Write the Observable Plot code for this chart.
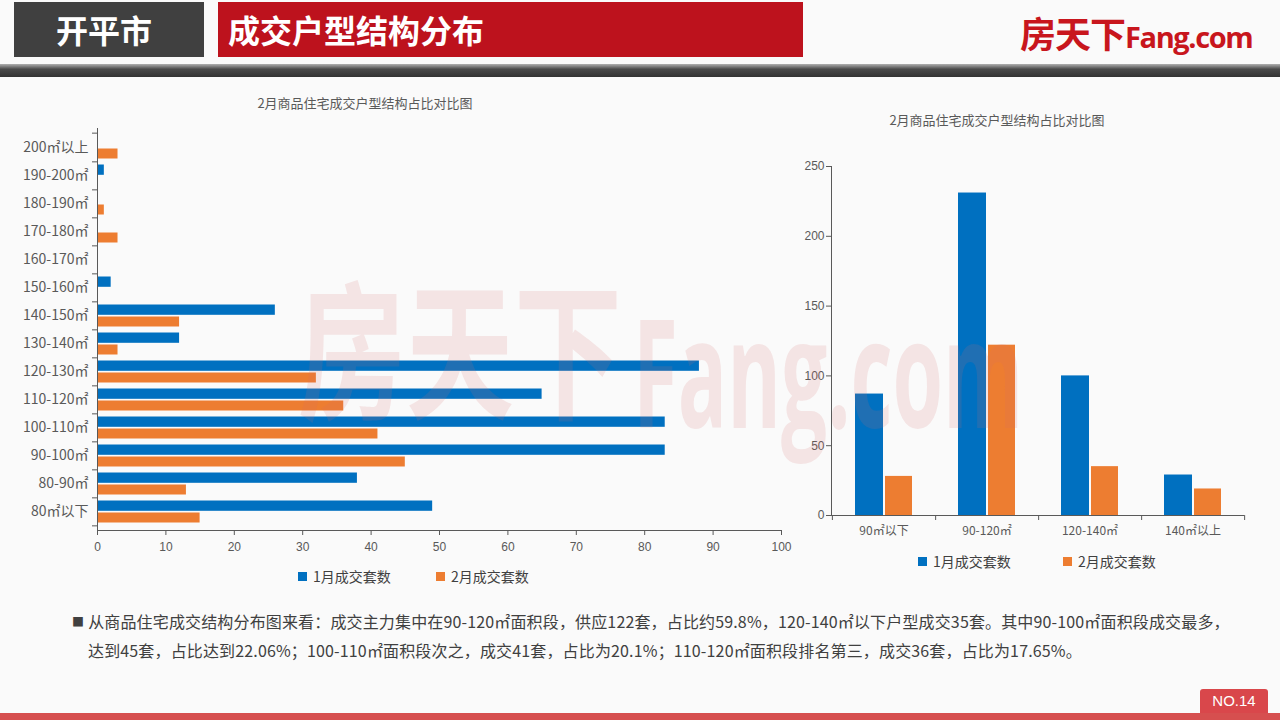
<!DOCTYPE html>
<html><head><meta charset="utf-8">
<script src="https://cdn.jsdelivr.net/npm/d3@7"></script>
<script src="https://cdn.jsdelivr.net/npm/@observablehq/plot@0.6"></script>
<style>
html,body{margin:0;padding:0;}
body{width:1280px;height:720px;position:relative;overflow:hidden;background:#fafafa;font-family:"Microsoft YaHei","Noto Sans CJK SC",sans-serif;color:#404040;}
.abs{position:absolute;}
.hbox{position:absolute;top:2px;height:55px;color:#fff;font-weight:bold;font-size:32px;line-height:55px;}
.title{position:absolute;font-size:13px;color:#595959;white-space:nowrap;transform:translateX(-50%);}
.leg{position:absolute;font-size:14px;color:#404040;white-space:nowrap;line-height:16px;}
.sw{display:inline-block;width:9px;height:9px;margin-right:6px;vertical-align:1px;}
.wm{position:absolute;white-space:nowrap;color:rgba(215,110,110,0.15);font-weight:bold;pointer-events:none;z-index:10;line-height:1;transform-origin:0 0;}
</style></head>
<body>
<div class="hbox" style="left:14px;width:190px;background:#404040;"><span style="position:absolute;left:42px;">开平市</span></div>
<div class="hbox" style="left:218px;width:585px;background:#bd121d;"><span style="position:absolute;left:10px;">成交户型结构分布</span></div>
<div class="abs" style="left:1020px;top:6px;color:#c8161d;white-space:nowrap;font-weight:bold;">
  <span style="font-size:36px;letter-spacing:-1px;">房天下</span><span style="font-family:'Open Sans';font-size:29px;letter-spacing:-1.4px;">Fang.com</span>
</div>
<div class="abs" style="left:0;top:64px;width:1280px;height:13px;background:linear-gradient(#b0b0b0,#4a4a4a 40%,#333);"></div>

<div class="title" style="left:365px;top:93px;">2月商品住宅成交户型结构占比对比图</div>
<div class="title" style="left:997px;top:110px;">2月商品住宅成交户型结构占比对比图</div>

<div id="left" class="abs" style="left:0;top:120px;"></div>
<div id="right" class="abs" style="left:800px;top:150px;"></div>

<div class="leg" style="left:298px;top:568px;"><span class="sw" style="background:#0070c0"></span>1月成交套数</div>
<div class="leg" style="left:436px;top:568px;"><span class="sw" style="background:#ed7d31"></span>2月成交套数</div>
<div class="leg" style="left:918px;top:553px;"><span class="sw" style="background:#0070c0"></span>1月成交套数</div>
<div class="leg" style="left:1063px;top:553px;"><span class="sw" style="background:#ed7d31"></span>2月成交套数</div>

<div class="wm" style="left:298px;top:268px;font-size:150px;font-family:'Noto Sans CJK SC';transform:scaleX(0.72);">房天下</div>
<div class="wm" style="left:633px;top:295px;font-size:150px;font-family:'Open Sans';transform:scaleX(0.545);">Fang.com</div>

<div class="abs" style="left:72px;top:607px;font-size:16px;letter-spacing:0.15px;line-height:28px;color:#404040;white-space:nowrap;">
<span style="font-size:12px;margin-right:4px;vertical-align:1px;">■</span>从商品住宅成交结构分布图来看：成交主力集中在90-120㎡面积段，供应122套，占比约59.8%，120-140㎡以下户型成交35套。其中90-100㎡面积段成交最多，<br>
<span style="margin-left:16px;">达到45套，占比达到22.06%；100-110㎡面积段次之，成交41套，占比为20.1%；110-120㎡面积段排名第三，成交36套，占比为17.65%。</span>
</div>

<div class="abs" style="left:1200px;top:689px;width:68px;height:24px;background:#d9474b;border-radius:3px 3px 0 0;color:#fff;font-size:15px;line-height:24px;text-align:center;font-family:'Liberation Sans',sans-serif;">NO.14</div>
<div class="abs" style="left:0;top:713px;width:1280px;height:7px;background:#d64f4f;"></div>

<script>
// ---- data ----
const areaBands = ["80㎡以下","80-90㎡","90-100㎡","100-110㎡","110-120㎡","120-130㎡","130-140㎡","140-150㎡","150-160㎡","160-170㎡","170-180㎡","180-190㎡","190-200㎡","200㎡以上"];
const janCounts = [49,38,83,83,65,88,12,26,2,0,0,0,1,0];
const febCounts = [15,13,45,41,36,32,3,12,0,0,3,1,0,3];
const xTicksLeft = [0,10,20,30,40,50,60,70,80,90,100];

const groupBands = ["90㎡以下","90-120㎡","120-140㎡","140㎡以上"];
const janGroup = [87,231,100,29];
const febGroup = [28,122,35,19];
const yTicksRight = [0,50,100,150,200,250];

const BLUE = "#0070c0", ORANGE = "#ed7d31", AXIS = "#595959";
const FONT = "'Liberation Sans','Noto Sans CJK SC',sans-serif";

// ---- left chart ----
const leftRows = areaBands.map((c,i)=>({c, jan: janCounts[i], feb: febCounts[i]}));
const LW = 800, LH = 440, lMT = 8, lMB = 30, lML = 97, lMR = 19;
const bwL = (LH - lMT - lMB) / areaBands.length;
const yDomain = areaBands.slice().reverse();
const left = Plot.plot({
  width: LW, height: LH, marginLeft: lML, marginRight: lMR, marginTop: lMT, marginBottom: lMB,
  style: {background: "transparent", fontFamily: FONT, fontSize: "12px", color: AXIS},
  x: {domain: [0,100]},
  y: {domain: yDomain, padding: 0},
  marks: [
    Plot.barX(leftRows, {y: "c", x: "jan", fill: BLUE, insetTop: 3.5, insetBottom: 14.2}),
    Plot.barX(leftRows, {y: "c", x: "feb", fill: ORANGE, insetTop: 15.5, insetBottom: 2.5}),
    Plot.ruleX([0], {stroke: AXIS}),
    Plot.axisY({tickSize: 0, tickPadding: 9, fontSize: 14, fill: AXIS, label: null, fontFamily: "'Noto Sans CJK SC',sans-serif"}),
    Plot.axisY({tickSize: 5, tickFormat: () => "", dy: bwL/2, stroke: AXIS, label: null}),
    Plot.axisY([yDomain[0]], {tickSize: 5, tickFormat: () => "", dy: -bwL/2, stroke: AXIS, label: null}),
    Plot.axisX({ticks: xTicksLeft, tickSize: 5, tickPadding: 7, stroke: AXIS, fill: AXIS, label: null}),
    Plot.frame({anchor: "bottom", stroke: AXIS})
  ]
});
document.getElementById("left").appendChild(left);

// ---- right chart ----
const rightRows = groupBands.map((c,i)=>({c, jan: janGroup[i], feb: febGroup[i]}));
const RW = 470, RH = 390, rMT = 16, rMB = 25, rML = 31, rMR = 26;
const bwR = (RW - rML - rMR) / groupBands.length;
const right = Plot.plot({
  width: RW, height: RH, marginLeft: rML, marginRight: rMR, marginTop: rMT, marginBottom: rMB,
  style: {background: "transparent", fontFamily: FONT, fontSize: "12px", color: AXIS},
  x: {domain: groupBands, padding: 0},
  y: {domain: [0,250]},
  marks: [
    Plot.barY(rightRows, {x: "c", y: "jan", fill: BLUE, insetLeft: 23, insetRight: 52}),
    Plot.barY(rightRows, {x: "c", y: "feb", fill: ORANGE, insetLeft: 53, insetRight: 23}),
    Plot.ruleY([0], {stroke: AXIS}),
    Plot.axisY({ticks: yTicksRight, tickSize: 5, tickPadding: 2, stroke: AXIS, fill: AXIS, label: null}),
    Plot.axisX({tickSize: 0, tickPadding: 11, fill: AXIS, label: null, fontFamily: "'Noto Sans CJK SC',sans-serif"}),
    Plot.axisX({tickSize: 5, tickFormat: () => "", dx: bwR/2, stroke: AXIS, label: null}),
    Plot.axisX([groupBands[0]], {tickSize: 5, tickFormat: () => "", dx: -bwR/2, stroke: AXIS, label: null}),
    Plot.frame({anchor: "left", stroke: AXIS})
  ]
});
document.getElementById("right").appendChild(right);
</script>
</body></html>
